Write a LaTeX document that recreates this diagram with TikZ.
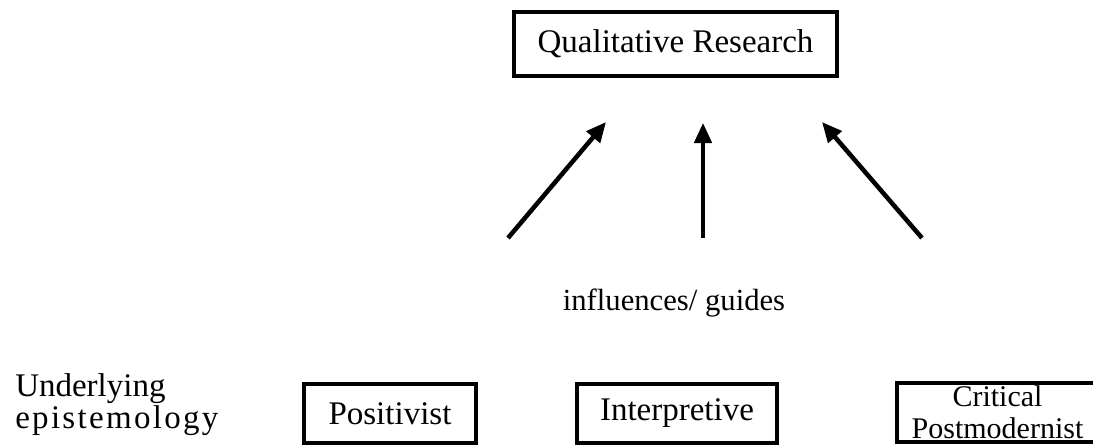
\documentclass[tikz,border=0pt]{standalone}
\usepackage{fontspec}
\setmainfont{Liberation Serif}
\usetikzlibrary{arrows.meta}
\tikzset{
  box/.style={draw=black, line width=3pt, inner sep=0pt, align=center, fill=white},
  bigtext/.style={font=\fontsize{24.75}{22.5}\selectfont},
  smalltext/.style={font=\fontsize{22.5}{24}\selectfont},
  influence/.style={line width=3.4pt, -{Triangle[length=15pt, width=13pt]}},
}
\begin{document}
\begin{tikzpicture}[x=0.75pt, y=-0.75pt]
\path[use as bounding box] (0,0) rectangle (1093,447);
\clip (0,0) rectangle (1093,447);
% top box
\node[box, bigtext, minimum width=323*0.75pt, minimum height=64*0.75pt] (qr) at (675.5,44) {Qualitative Research};
% bottom boxes
\node[box, bigtext, minimum width=172*0.75pt, minimum height=59*0.75pt] (pos) at (390,413.5) {Positivist};
\node[box, bigtext, minimum width=200*0.75pt, minimum height=59*0.75pt] (int) at (677,413.5) {Interpretive};
\node[box, smalltext, minimum width=201*0.75pt, minimum height=59*0.75pt] (crit) at (997.5,412) {Critical\\Postmodernist};
% left label
\node[bigtext, anchor=west, inner sep=0pt, align=left] (epi) at (15,404.5) {Underlying\\{\addfontfeature{LetterSpace=7}epistemology}};
% middle label
\node[font=\fontsize{23}{24}\selectfont, anchor=base, inner sep=0pt] (infl) at (674,310) {influences/ guides};
% arrows
\coordinate (t1) at (508,238);
\coordinate (h1) at (606,122);
\coordinate (t2) at (703,238);
\coordinate (h2) at (703,123);
\coordinate (t3) at (922,238);
\coordinate (h3) at (822,122);
\draw[influence] (t1) -- (h1);
\draw[influence, line width=2.8pt] (t2) -- (h2);
\draw[influence] (t3) -- (h3);
\end{tikzpicture}
\end{document}
